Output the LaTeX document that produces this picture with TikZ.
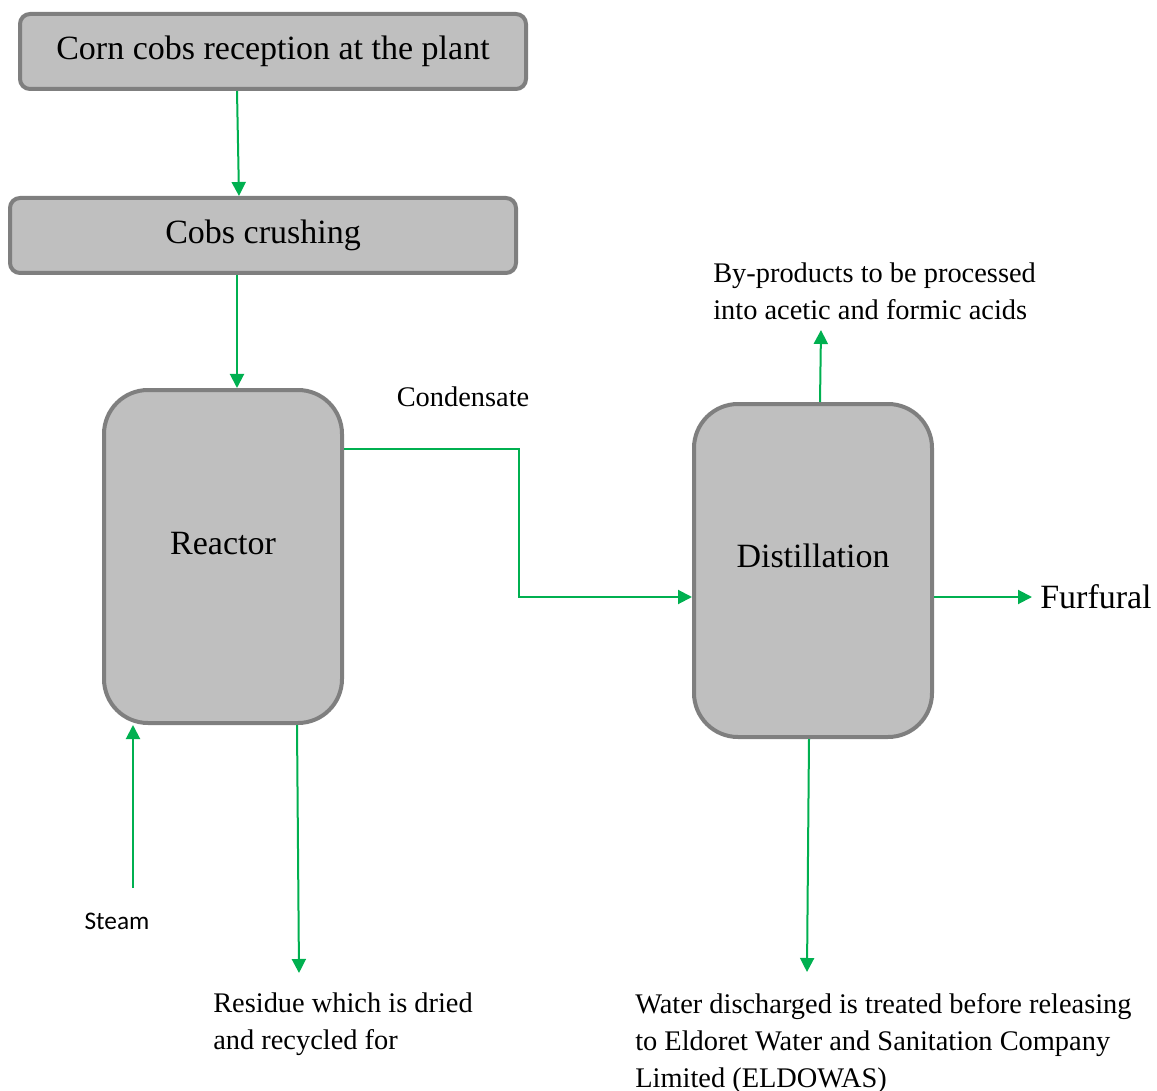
\documentclass[tikz,border=0pt]{standalone}
\usepackage{fontspec}
\setmainfont{Liberation Serif}
\newfontfamily\steamfont{Carlito}
\usetikzlibrary{arrows.meta,calc}
\definecolor{boxfill}{HTML}{BFBFBF}
\definecolor{boxline}{HTML}{7F7F7F}
\definecolor{flowgreen}{HTML}{00B050}
\begin{document}
\begin{tikzpicture}[x=0.75pt,y=-0.75pt,
 box/.style={draw=boxline, fill=boxfill, line width=3pt, rounded corners=7.5pt, minimum width=379.5pt, minimum height=56.25pt, inner sep=0pt, font=\fontsize{25.5}{30}\selectfont},
 vessel/.style={draw=boxline, fill=boxfill, line width=3pt, rounded corners=33pt, minimum width=178.5pt, minimum height=249.75pt, inner sep=0pt},
 biglabel/.style={font=\fontsize{25.5}{30}\selectfont, inner sep=0pt},
 note/.style={font=\fontsize{21.3}{27.5}\selectfont, align=left, inner sep=0pt, anchor=north west},
 flow/.style={draw=flowgreen, line width=1.5pt, -{Triangle[length=10.5pt,width=10.5pt]}}]
\useasboundingbox (0,0) rectangle (1157,1091);
% process boxes
\node[box] (reception) at (273,51.5) {Corn cobs reception at the plant};
\node[box] (crushing) at (263,235.5) {Cobs crushing};
\node[vessel] (reactor) at (223,556.5) {};
\node[biglabel, anchor=base] (reactorlabel) at (223,554) {Reactor};
\node[vessel] (distill) at (813,570.5) {};
\node[biglabel, anchor=base] (distilllabel) at (813,567) {Distillation};
% texts
\node[biglabel, anchor=west] (furfural) at (1040,597) {Furfural};
\node[note, anchor=center] (condensate) at (463,397) {Condensate};
\node[note] (byproducts) at (713,262.4) {By-products to be processed\\into acetic and formic acids};
\node[note] (residue) at (213,992.4) {Residue which is dried\\and recycled for};
\node[note] (water) at (635,993.4) {Water discharged is treated before releasing\\to Eldoret Water and Sanitation Company\\Limited (ELDOWAS)};
\node[font=\steamfont\fontsize{19}{22}\selectfont, inner sep=0pt] (steam) at (117,921) {Steam};
% free ends
\coordinate (steamtop) at (133,888);
\coordinate (bypin) at (821,330);
\coordinate (residuein) at (299,973);
\coordinate (waterin) at (807,972);
\coordinate (bend) at (519,520);
% connectors
\draw[flow] ($(reception.south)+(-36,0)$) -- ($(crushing.north)+(-24,0)$);
\draw[flow] ($(crushing.south)+(-26,0)$) -- ($(reactor.north)+(14,0)$);
\draw[flow] ($(reactor.east)+(0,-107.5)$) -| (bend) |- ($(distill.west)+(0,26.5)$);
\draw[flow] ($(distill.north)+(7,0)$) -- (bypin);
\draw[flow] ($(distill.east)+(0,26.5)$) -- ($(furfural.west)+(-8,0)$);
\draw[flow] ($(distill.south)+(-4,0)$) -- (waterin);
\draw[flow] (steamtop) -- ($(reactor.south)+(-90,0)$);
\draw[flow] ($(reactor.south)+(74,0)$) -- (residuein);
\end{tikzpicture}
\end{document}
